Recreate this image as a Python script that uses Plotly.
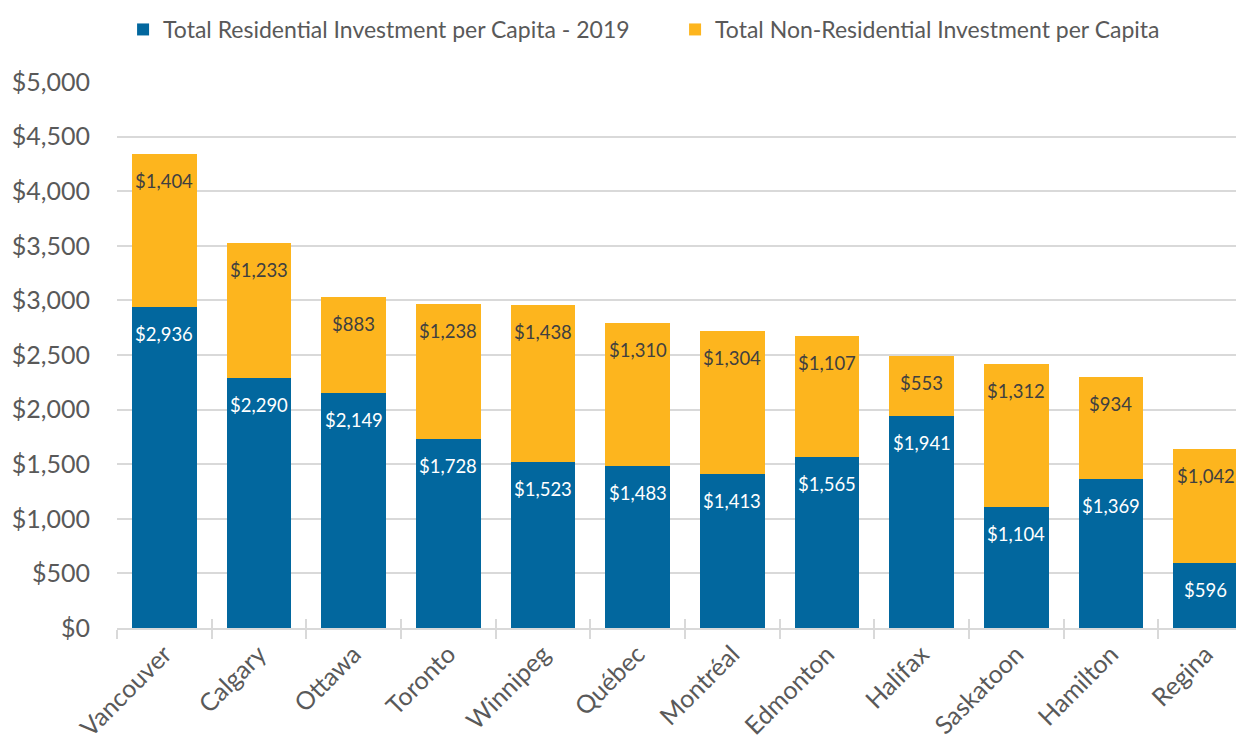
import plotly.graph_objects as go

cities = ["Vancouver", "Calgary", "Ottawa", "Toronto", "Winnipeg", "Québec",
          "Montréal", "Edmonton", "Halifax", "Saskatoon", "Hamilton", "Regina"]
residential = [2936, 2290, 2149, 1728, 1523, 1483, 1413, 1565, 1941, 1104, 1369, 596]
non_residential = [1404, 1233, 883, 1238, 1438, 1310, 1304, 1107, 553, 1312, 934, 1042]
y_ticks = [0, 500, 1000, 1500, 2000, 2500, 3000, 3500, 4000, 4500, 5000]

FONT = "Lato"
BLUE = "#02679E"
ORANGE = "#FDB51E"
GREY = "#595959"
GRID = "#D9D9D9"

fig = go.Figure()
fig.add_trace(go.Bar(
    x=cities, y=residential, name="Total Residential Investment per Capita - 2019",
    marker=dict(color=BLUE, line=dict(width=0)), hoverinfo="x+y", legendwidth=507,
))
fig.add_trace(go.Bar(
    x=cities, y=non_residential, name="Total Non-Residential Investment per Capita",
    marker=dict(color=ORANGE, line=dict(width=0)), hoverinfo="x+y",
))
# invisible trace on the overlay axis, used only to draw the crossing tick marks
fig.add_trace(go.Scatter(x=cities, y=[0] * len(cities), mode="none",
                         xaxis="x2", showlegend=False, hoverinfo="skip"))

# data labels, placed just inside the top of each segment
for c, r, n in zip(cities, residential, non_residential):
    fig.add_annotation(x=c, y=r, text=f"${r:,}", showarrow=False,
                       yanchor="middle", yshift=-27,
                       font=dict(family=FONT, size=18.5, color="white"))
    fig.add_annotation(x=c, y=r + n, text=f"${n:,}", showarrow=False,
                       yanchor="middle", yshift=-27,
                       font=dict(family=FONT, size=18.5, color="#404040"))

fig.update_layout(
    barmode="stack", bargap=0.32,
    width=1236, height=741,
    margin=dict(l=109, r=0, t=74, b=121, autoexpand=False),
    plot_bgcolor="white", paper_bgcolor="white",
    font=dict(family=FONT, color=GREY),
    legend=dict(orientation="h", x=0.0931, xanchor="left", xref="container",
                y=1.0, yanchor="top", yref="container",
                font=dict(size=23, color=GREY),
                itemwidth=30, traceorder="normal"),
    showlegend=True,
    xaxis2=dict(overlaying="x", matches="x", side="bottom", anchor="y",
                showticklabels=False, ticks="inside", ticklen=9, tickwidth=1.5,
                tickcolor=GRID, tickson="boundaries", showgrid=False,
                zeroline=False, showline=False, automargin=False),
)
fig.update_yaxes(range=[0, 5000], tickvals=y_ticks,
                 ticktext=[f"${v:,}" for v in y_ticks],
                 showgrid=True, gridcolor=GRID, gridwidth=1.5,
                 zeroline=False, ticks="", tickfont=dict(size=25, color=GREY),
                 ticklabelstandoff=26, automargin=False)
fig.layout.xaxis.update(tickangle=-45, tickson="boundaries", ticks="outside", ticklen=9,
                        tickcolor=GRID, tickwidth=1.5, range=[-0.5, 11.405],
                        showline=True, linecolor=GRID, linewidth=1.5,
                        tickfont=dict(size=25, color=GREY), automargin=False)
fig.write_html("out.html")
